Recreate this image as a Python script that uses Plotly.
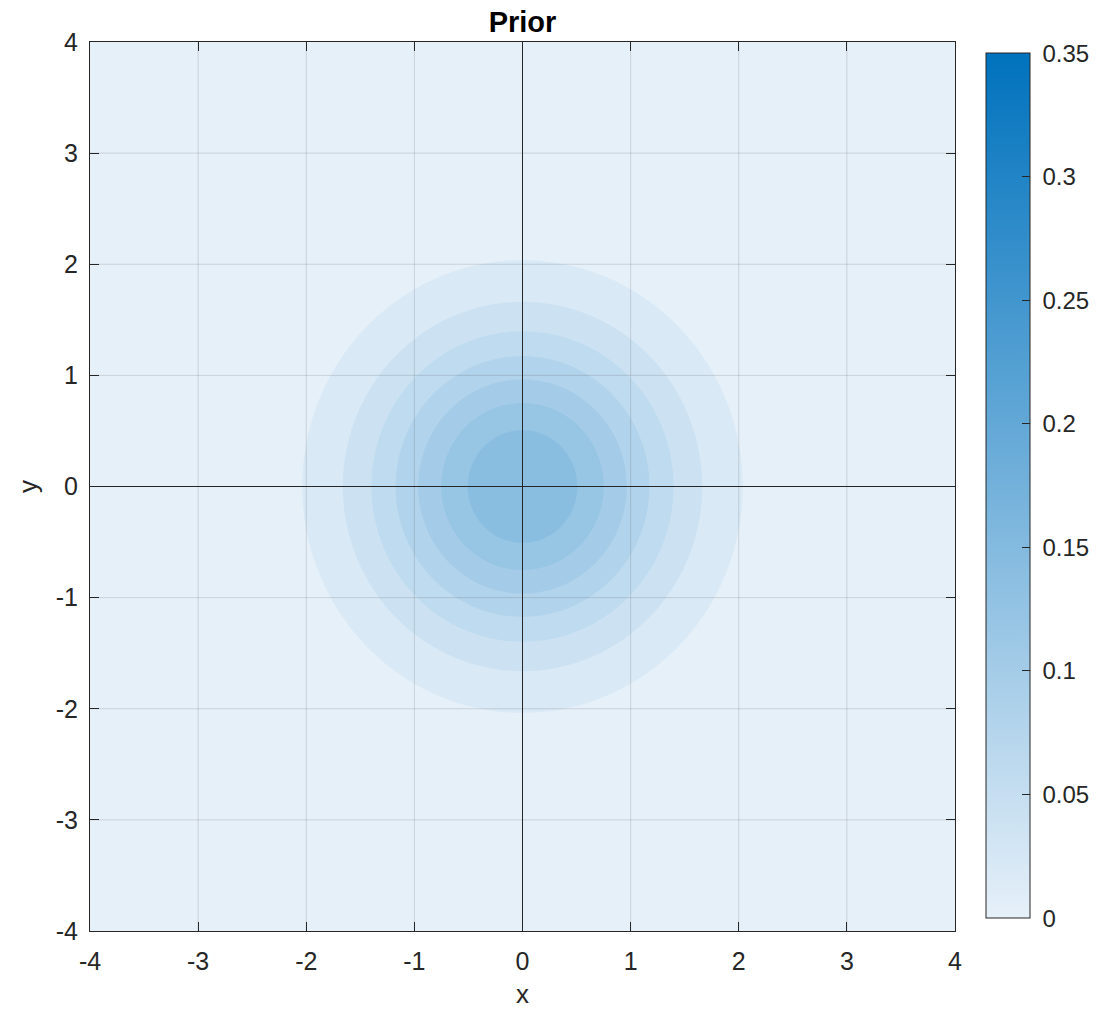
import numpy as np
import plotly.graph_objects as go

# Prior: isotropic 2-D Gaussian
prior_mean = [0.0, 0.0]
prior_sigma = [1.0, 1.0]

# evaluation grid and contour levels
x_range = [-4, 4]
y_range = [-4, 4]
grid_n = 321
level_start, level_step, level_end = 0.02, 0.02, 0.14

# colour range of the colour bar
c_min, c_max = 0.0, 0.35
cbar_ticks = [0, 0.05, 0.1, 0.15, 0.2, 0.25, 0.3, 0.35]
cbar_labels = ["0", "0.05", "0.1", "0.15", "0.2", "0.25", "0.3", "0.35"]
axis_ticks = [-4, -3, -2, -1, 0, 1, 2, 3, 4]

low_rgb = np.array([230, 240, 249])
high_rgb = np.array([0, 114, 189])

FONT = "Liberation Sans, Arial, Helvetica, sans-serif"
INK = "#262626"


def rgb(c):
    c = np.round(c).astype(int)
    return f"rgb({c[0]},{c[1]},{c[2]})"


xs = np.linspace(x_range[0], x_range[1], grid_n)
ys = np.linspace(y_range[0], y_range[1], grid_n)
X, Y = np.meshgrid(xs, ys)
sx, sy = prior_sigma
Z = np.exp(-0.5 * (((X - prior_mean[0]) / sx) ** 2 + ((Y - prior_mean[1]) / sy) ** 2)) / (
    2 * np.pi * sx * sy
)

# Plotly spreads the filled bands evenly over its colourscale; each band
# takes the colour of its lower level on the 0..0.35 scale.
top_frac = (level_end - c_min) / (c_max - c_min)
band_top = low_rgb + (high_rgb - low_rgb) * top_frac
band_scale = [[0, rgb(low_rgb)], [1, rgb(band_top)]]
full_scale = [[0, rgb(low_rgb)], [1, rgb(high_rgb)]]

fig = go.Figure()
fig.add_trace(
    go.Contour(
        x=xs,
        y=ys,
        z=Z,
        colorscale=band_scale,
        contours=dict(start=level_start, end=level_end, size=level_step,
                      coloring="fill", showlines=False),
        line=dict(width=0),
        showscale=False,
        hoverinfo="skip",
    )
)

# colour bar on the full 0..0.35 scale
fig.add_trace(
    go.Scatter(
        x=[prior_mean[0]],
        y=[prior_mean[1]],
        mode="markers",
        marker=dict(
            size=1,
            opacity=0,
            color=[c_min],
            cmin=c_min,
            cmax=c_max,
            colorscale=full_scale,
            showscale=True,
            colorbar=dict(
                x=1.0358,
                xanchor="left",
                y=0.501,
                yanchor="middle",
                len=0.973,
                lenmode="fraction",
                thickness=44,
                thicknessmode="pixels",
                outlinecolor=INK,
                outlinewidth=1,
                tickvals=cbar_ticks,
                ticktext=["\u00a0" + s for s in cbar_labels],
                ticks="inside",
                ticklen=8,
                tickcolor=INK,
                tickfont=dict(family=FONT, size=24, color=INK),
                xpad=0,
                ypad=0,
            ),
        ),
        showlegend=False,
        hoverinfo="skip",
    )
)

# grid lines drawn over the filled contours
grid_color = "rgba(38,38,38,0.15)"
for t in axis_ticks[1:-1]:
    fig.add_shape(type="line", xref="x", yref="y", x0=t, x1=t, y0=y_range[0], y1=y_range[1],
                  line=dict(color=grid_color, width=1), layer="above")
    fig.add_shape(type="line", xref="x", yref="y", x0=x_range[0], x1=x_range[1], y0=t, y1=t,
                  line=dict(color=grid_color, width=1), layer="above")

# axes through the origin
fig.add_shape(type="line", xref="x", yref="y", x0=0, x1=0, y0=y_range[0], y1=y_range[1],
              line=dict(color=INK, width=1), layer="above")
fig.add_shape(type="line", xref="x", yref="y", x0=x_range[0], x1=x_range[1], y0=0, y1=0,
              line=dict(color=INK, width=1), layer="above")

axis_common = dict(
    tickvals=axis_ticks,
    ticktext=[str(t) for t in axis_ticks],
    ticks="inside",
    ticklen=9,
    tickcolor=INK,
    showline=True,
    linecolor=INK,
    linewidth=1,
    mirror="ticks",
    showgrid=False,
    zeroline=False,
    automargin=False,
    tickfont=dict(family=FONT, size=25, color=INK),
    layer="above traces",
)

fig.update_layout(
    width=1114,
    height=1009,
    margin=dict(l=90, r=159, t=42, b=78),
    paper_bgcolor="white",
    plot_bgcolor=rgb(low_rgb),
    title=dict(
        text="<b>Prior</b>",
        x=(90 + 955) / 2 / 1114,
        xanchor="center",
        y=1 - 22 / 1009,
        yanchor="middle",
        font=dict(family=FONT, size=29, color="black"),
    ),
    xaxis=dict(range=x_range, ticklabelstandoff=8,
               title=dict(text="x", standoff=12,
                          font=dict(family=FONT, size=26, color=INK)),
               **axis_common),
    yaxis=dict(range=y_range, ticklabelstandoff=6,
               title=dict(text="y", standoff=10,
                          font=dict(family=FONT, size=26, color=INK)),
               **axis_common),
    showlegend=False,
)

fig.write_html("out.html")
